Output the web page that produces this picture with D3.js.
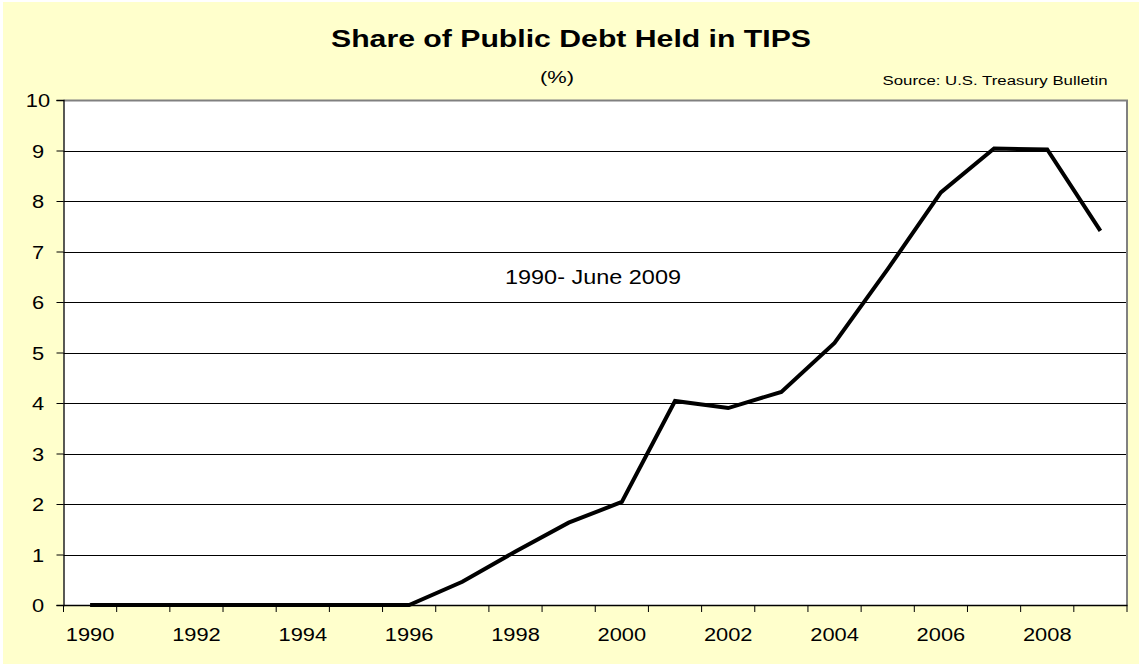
<!DOCTYPE html>
<html>
<head>
<meta charset="utf-8">
<script src="https://cdnjs.cloudflare.com/ajax/libs/d3/7.8.5/d3.min.js"></script>
<style>
  html, body { margin: 0; padding: 0; background: #fff; }
  svg { display: block; font-family: Arial, "Liberation Sans", sans-serif; }
</style>
</head>
<body>
<div id="chart"></div>
<script>
// Share of public debt held in TIPS, year-end values (June for 2009)
const years = [1990, 1991, 1992, 1993, 1994, 1995, 1996, 1997, 1998, 1999,
               2000, 2001, 2002, 2003, 2004, 2005, 2006, 2007, 2008, 2009];
const shares = [0, 0, 0, 0, 0, 0, 0, 0.46, 1.06, 1.63,
                2.04, 4.04, 3.90, 4.22, 5.19, 6.65, 8.17, 9.04, 9.02, 7.41];
const xLabels = [1990, 1992, 1994, 1996, 1998, 2000, 2002, 2004, 2006, 2008];
const yTicks = [0, 1, 2, 3, 4, 5, 6, 7, 8, 9, 10];

const W = 1139, H = 664;
const plot = { left: 63.5, right: 1127, top: 100, bottom: 605 };
const stretch = 1.15; // the original text is drawn a bit wide

const svg = d3.select("#chart").append("svg")
  .attr("width", W)
  .attr("height", H);

// page background
svg.append("rect")
  .attr("x", 3).attr("y", 2)
  .attr("width", W - 3).attr("height", H - 2)
  .attr("fill", "#ffffcc");

const x = d3.scaleBand()
  .domain(years)
  .range([plot.left, plot.right])
  .padding(0);

const y = d3.scaleLinear()
  .domain([0, 10])
  .range([plot.bottom, plot.top]);

const cx = d => x(d) + x.bandwidth() / 2;

// plot area
svg.append("rect")
  .attr("x", plot.left).attr("y", plot.top)
  .attr("width", plot.right - plot.left)
  .attr("height", plot.bottom - plot.top)
  .attr("fill", "#fff");

// gridlines
svg.append("g")
  .selectAll("line")
  .data(yTicks.filter(t => t > 0 && t < 10))
  .join("line")
  .attr("x1", plot.left).attr("x2", plot.right)
  .attr("y1", d => Math.round(y(d)) + 0.5)
  .attr("y2", d => Math.round(y(d)) + 0.5)
  .attr("stroke", "#000")
  .attr("stroke-width", 1);

// top and right border of the plot
svg.append("path")
  .attr("d", `M${plot.left},${plot.top + 0.5} H${plot.right} V${plot.bottom}`)
  .attr("fill", "none")
  .attr("stroke", "#808080")
  .attr("stroke-width", 2);

// y axis
const yAxis = svg.append("g")
  .attr("transform", `translate(${plot.left},0)`)
  .call(d3.axisLeft(y).tickValues(yTicks).tickSize(7).tickPadding(0).tickFormat(d3.format("d")));
yAxis.select(".domain").attr("stroke", "#000").attr("stroke-width", 1.3);
yAxis.selectAll(".tick line").attr("stroke", "#000");
yAxis.selectAll(".tick text")
  .attr("font-size", 19)
  .attr("fill", "#000")
  .attr("text-anchor", "middle")
  .attr("x", -25.5 / stretch)
  .attr("dy", "0.36em")
  .attr("transform", `scale(${stretch},1)`);

// x axis: labels every second year, tick marks between every category
const xAxis = svg.append("g")
  .attr("transform", `translate(0,${plot.bottom})`)
  .call(d3.axisBottom(x).tickValues(xLabels).tickSize(0).tickPadding(0));
xAxis.select(".domain").attr("stroke", "#000").attr("stroke-width", 1.3);
xAxis.selectAll(".tick text")
  .attr("font-size", 19)
  .attr("fill", "#000")
  .attr("y", 36.5)
  .attr("dy", 0)
  .attr("transform", `scale(${stretch},1)`);

svg.append("g")
  .selectAll("line")
  .data(years.map(d => x(d)).concat([plot.right]))
  .join("line")
  .attr("x1", d => d).attr("x2", d => d)
  .attr("y1", plot.bottom).attr("y2", plot.bottom + 7)
  .attr("stroke", "#000");

// data line
const line = d3.line()
  .x((d, i) => cx(years[i]))
  .y(d => y(d));

svg.append("path")
  .datum(shares)
  .attr("d", line)
  .attr("fill", "none")
  .attr("stroke", "#000")
  .attr("stroke-width", 4)
  .attr("stroke-linejoin", "miter");

// texts
svg.append("text")
  .attr("x", 571).attr("y", 46.5)
  .attr("text-anchor", "middle")
  .attr("font-size", 23)
  .attr("font-weight", "bold")
  .attr("textLength", 480)
  .attr("lengthAdjust", "spacingAndGlyphs")
  .text("Share of Public Debt Held in TIPS");

svg.append("text")
  .attr("x", 557).attr("y", 83)
  .attr("text-anchor", "middle")
  .attr("font-size", 17)
  .attr("textLength", 34)
  .attr("lengthAdjust", "spacingAndGlyphs")
  .text("(%)");

svg.append("text")
  .attr("x", 995).attr("y", 84.5)
  .attr("text-anchor", "middle")
  .attr("font-size", 12.5)
  .attr("textLength", 225)
  .attr("lengthAdjust", "spacingAndGlyphs")
  .text("Source: U.S. Treasury Bulletin");

svg.append("text")
  .attr("x", 593).attr("y", 284.3)
  .attr("text-anchor", "middle")
  .attr("font-size", 20)
  .attr("textLength", 176)
  .attr("lengthAdjust", "spacingAndGlyphs")
  .text("1990- June 2009");
</script>
</body>
</html>
